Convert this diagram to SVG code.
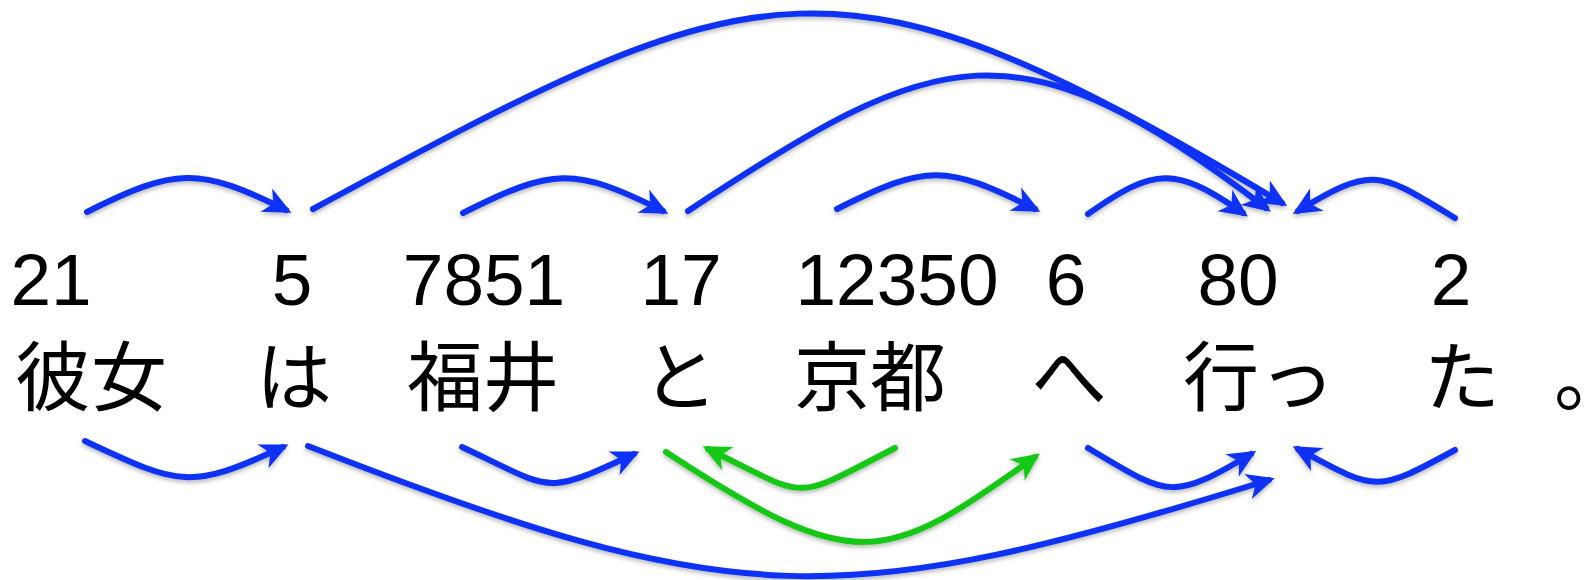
<svg xmlns="http://www.w3.org/2000/svg" width="1587" height="580" viewBox="0 0 1587 580">
<style>
.num{font-family:"Liberation Sans",Arial,sans-serif;font-size:73px;fill:#000;text-anchor:middle}
.jp{font-family:"Noto Sans CJK JP","Noto Sans CJK SC",sans-serif;font-size:76px;fill:#000;text-anchor:middle}
.b{fill:none;stroke:#0a30f5;stroke-width:6;stroke-linecap:round;marker-end:url(#ab)}
.g{fill:none;stroke:#14c814;stroke-width:6;stroke-linecap:round;marker-end:url(#ag)}
</style>
<defs>
<filter id="sh" x="-10%" y="-10%" width="120%" height="130%">
<feDropShadow dx="0" dy="2.5" stdDeviation="2" flood-color="#000" flood-opacity="0.28"/>
</filter>
<marker id="ab" markerUnits="userSpaceOnUse" viewBox="-32 -16 42 32" markerWidth="42" markerHeight="32" refX="-6" refY="0" orient="auto" overflow="visible">
<path d="M0,0 L-28,-13 L-20,0 L-28,13 Z" fill="#0a30f5"/>
</marker>
<marker id="ag" markerUnits="userSpaceOnUse" viewBox="-32 -16 42 32" markerWidth="42" markerHeight="32" refX="-6" refY="0" orient="auto" overflow="visible">
<path d="M0,0 L-28,-13 L-20,0 L-28,13 Z" fill="#14c814"/>
</marker>
</defs>
<rect width="1587" height="580" fill="#fff"/>
<g id="n-kanojo"><text class="num" x="51" y="305">21</text><text class="jp" x="91" y="405">彼女</text></g>
<g id="n-wa"><text class="num" x="292" y="305">5</text><text class="jp" x="294" y="405">は</text></g>
<g id="n-fukui"><text class="num" x="484" y="305">7851</text><text class="jp" x="483" y="405">福井</text></g>
<g id="n-to"><text class="num" x="681" y="305">17</text><text class="jp" x="680" y="405">と</text></g>
<g id="n-kyoto"><text class="num" x="897" y="305">12350</text><text class="jp" x="870" y="405">京都</text></g>
<g id="n-e"><text class="num" x="1066" y="305">6</text><text class="jp" x="1069" y="405">へ</text></g>
<g id="n-itt"><text class="num" x="1238" y="305">80</text><text class="jp" x="1259" y="405">行っ</text></g>
<g id="n-ta"><text class="num" x="1451" y="305">2</text><text class="jp" x="1462" y="405">た</text></g>
<g id="n-period"><text class="jp" x="1554" y="405" style="text-anchor:start">。</text></g>
<g id="connectors" filter="url(#sh)">
<path class="b" d="M87,212 C175,168 198,166 286,210"/>
<path class="b" d="M313,209 C766,-36 834,-65 1282,203"/>
<path class="b" d="M463,213 C553,168 573,166 663,211"/>
<path class="b" d="M688,211 C939,45 1015,17 1266,208"/>
<path class="b" d="M837,209 C927,164 945,164 1035,209"/>
<path class="b" d="M1088,214 C1155,167 1175,166 1243,213"/>
<path class="b" d="M1455,218 C1379,172 1374,165 1298,211"/>
<path class="b" d="M85,441 C179,485 189,491 283,447"/>
<path class="b" d="M308,446 C738,614 839,613 1269,480"/>
<path class="b" d="M462,447 C554,490 542,497 634,454"/>
<path class="g" d="M895,448 C790,502 812,500 708,449"/>
<path class="g" d="M666,452 C856,577 885,565 1035,457"/>
<path class="b" d="M1088,448 C1168,496 1171,502 1251,454"/>
<path class="b" d="M1455,450 C1376,493 1377,492 1298,449"/>
</g>
</svg>
